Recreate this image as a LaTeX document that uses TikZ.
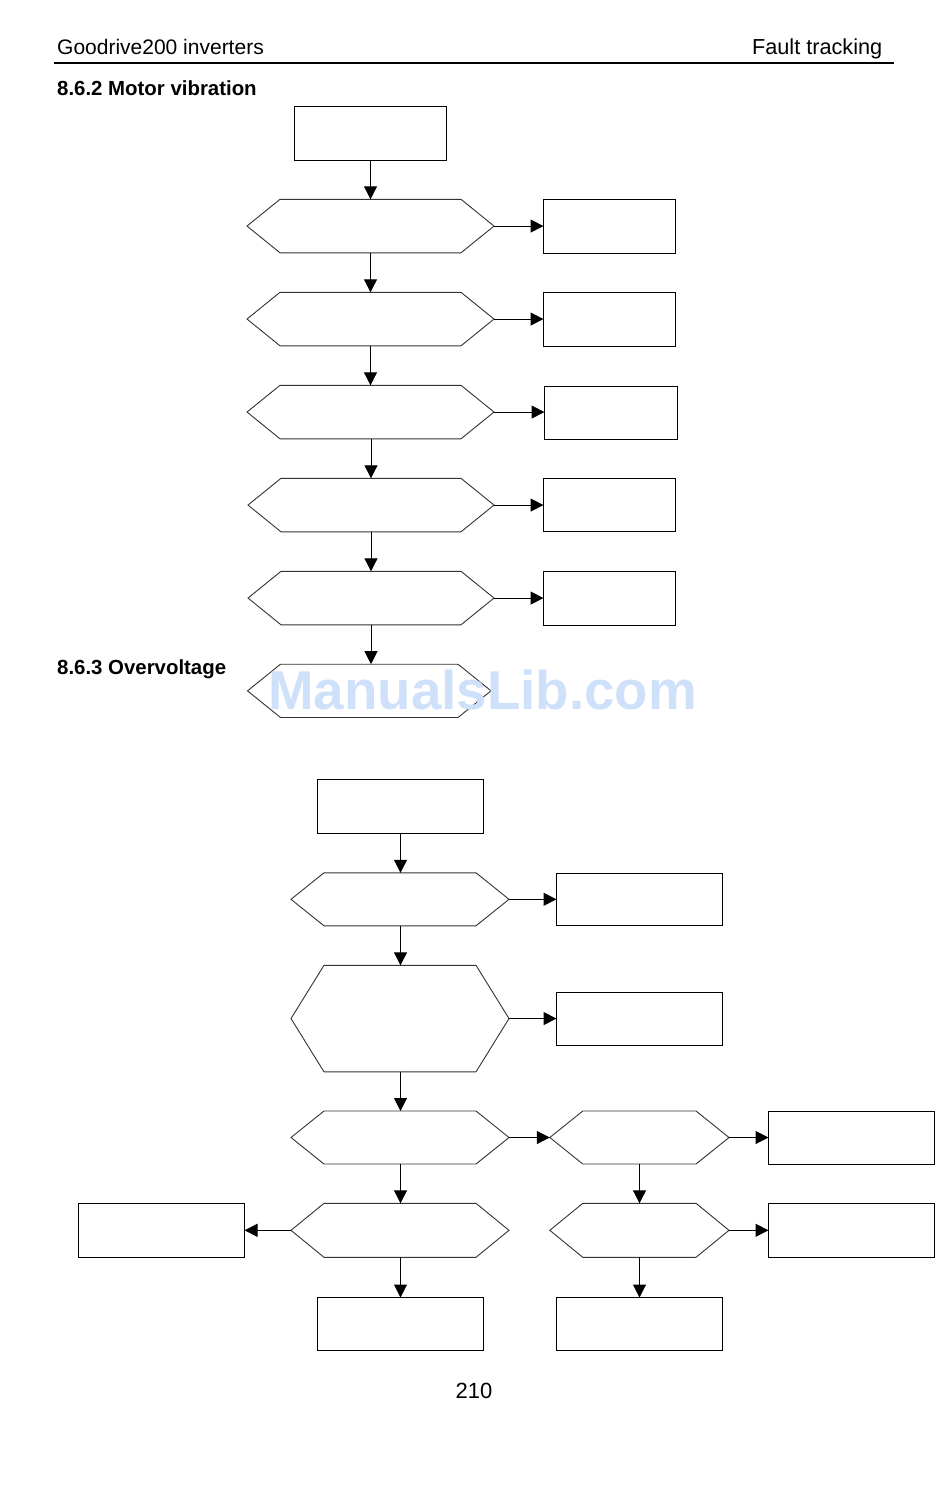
\documentclass[tikz,border=0pt]{standalone}
\usepackage{fontspec}
\setmainfont{Liberation Sans}
\usetikzlibrary{arrows.meta}
\definecolor{wm}{RGB}{207,225,250}
\tikzset{
  x=1pt,y=-1pt,
  box/.style={draw=black,line width=1pt,inner sep=0pt,outer sep=0pt},
  hexline/.style={draw=black!80,line width=0.9pt,line join=miter},
  conn/.style={draw=black,line width=1pt,-{Triangle[length=13pt,width=13pt]},shorten >=0pt},
  head/.style={anchor=base west,inner sep=0pt,font=\fontsize{21}{24}\selectfont},
  sect/.style={anchor=base west,inner sep=0pt,font=\bfseries\fontsize{20.4}{24}\selectfont},
}
% name, left, right, top, bottom
\newcommand{\rectnode}[5]{%
  \pgfmathsetmacro{\mycx}{(#2+#3)/2}\pgfmathsetmacro{\mycy}{(#4+#5)/2}%
  \pgfmathsetmacro{\mywd}{#3-#2}\pgfmathsetmacro{\myht}{#5-#4}%
  \node[box,minimum width=\mywd pt,minimum height=\myht pt] (#1) at (\mycx,\mycy) {};}
% name, left, right, top, bottom, inset
\newcommand{\hexnode}[6]{%
  \pgfmathsetmacro{\mycx}{(#2+#3)/2}\pgfmathsetmacro{\mycy}{(#4+#5)/2}%
  \pgfmathsetmacro{\mywd}{#3-#2}\pgfmathsetmacro{\myht}{#5-#4}%
  \node[inner sep=0pt,outer sep=0pt,minimum width=\mywd pt,minimum height=\myht pt] (#1) at (\mycx,\mycy) {};
  \draw[hexline] (#2,\mycy) -- (#2+#6,#4) -- (#3-#6,#4) -- (#3,\mycy) -- (#3-#6,#5) -- (#2+#6,#5) -- cycle;}
\newcommand{\down}[2]{\draw[conn] (#2.north |- #1.south) -- (#2.north);}
\newcommand{\rgt}[2]{\draw[conn] (#1.east) -- (#2.west |- #1.east);}
\begin{document}
\begin{tikzpicture}
\useasboundingbox (0,0) rectangle (950,1488);
\fill[white] (0,0) rectangle (950,1488);
% page furniture
\node[head] (hl) at (57,55) {Goodrive200 inverters};
\node[head,anchor=base east,font=\fontsize{21.7}{24}\selectfont] (hr) at (882.5,55) {Fault tracking};
\coordinate (ruleL) at (54,63.3);
\coordinate (ruleR) at (894,63.3);
\draw[line width=2pt] (ruleL) -- (ruleR);
\node[sect] (s1) at (57,95.5) {8.6.2 Motor vibration};
\node[sect] (s2) at (57,674.5) {8.6.3 Overvoltage};
\node[head,anchor=base,font=\fontsize{22}{24}\selectfont] (pg) at (474,1398) {210};
% upper flow
\rectnode{a0}{294.5}{446.5}{106.5}{160.5}
\hexnode{a1}{247}{494}{199.3}{252.8}{33}
\hexnode{a2}{247}{494}{292.3}{345.8}{33}
\hexnode{a3}{247}{494}{385.3}{438.8}{33}
\hexnode{a4}{248}{494}{478.3}{531.8}{33}
\hexnode{a5}{248}{494}{571.3}{624.8}{33}
\hexnode{a6}{247.5}{491}{664.2}{717.5}{33}
\rectnode{r1}{543.5}{675.5}{199.5}{253.5}
\rectnode{r2}{543.5}{675.5}{292.5}{346}
\rectnode{r3}{544.5}{677.5}{386.5}{439.5}
\rectnode{r4}{543.5}{675.5}{478.5}{531.5}
\rectnode{r5}{543.5}{675.5}{571.5}{625}
\draw[conn] (a0.south) -- (a0.south |- a1.north);
\draw[conn] (a0.south |- a1.south) -- (a0.south |- a2.north);
\draw[conn] (a0.south |- a2.south) -- (a0.south |- a3.north);
\down{a3}{a4}
\draw[conn] (a4.north |- a4.south) -- (a4.north |- a5.north);
\draw[conn] (a4.north |- a5.south) -- (a4.north |- a6.north);
\rgt{a1}{r1}\rgt{a2}{r2}\rgt{a3}{r3}\rgt{a4}{r4}\rgt{a5}{r5}
% lower flow
\rectnode{b0}{317.5}{483.5}{779.5}{833.5}
\hexnode{b1}{291}{509}{872.8}{925.8}{33}
\hexnode{b2}{291}{509}{965.3}{1071.8}{33}
\hexnode{b3}{291}{509}{1111}{1164}{33}
\hexnode{b4}{291}{509}{1203.3}{1257.3}{33}
\hexnode{c3}{549.8}{729}{1111}{1164}{33}
\hexnode{c4}{549.8}{729}{1203.3}{1257.3}{33}
\rectnode{q1}{556.5}{722.5}{873.5}{925.5}
\rectnode{q2}{556.5}{722.5}{992.5}{1045.5}
\rectnode{q3}{768.5}{934.5}{1111.5}{1164.5}
\rectnode{q4}{768.5}{934.5}{1203.5}{1257.5}
\rectnode{q5}{78.5}{244.5}{1203.5}{1257.5}
\rectnode{e1}{317.5}{483.5}{1297.5}{1350.5}
\rectnode{e2}{556.5}{722.5}{1297.5}{1350.5}
\draw[conn] (b0.south) -- (b1.north -| b0.south);
\draw[conn] (b1.south -| b0.south) -- (b2.north -| b0.south);
\draw[conn] (b2.south -| b0.south) -- (b3.north -| b0.south);
\draw[conn] (b3.south -| b0.south) -- (b4.north -| b0.south);
\draw[conn] (b4.south -| b0.south) -- (e1.north);
\draw[conn] (c3.south -| e2.north) -- (c4.north -| e2.north);
\draw[conn] (c4.south -| e2.north) -- (e2.north);
\rgt{b1}{q1}\rgt{b2}{q2}\rgt{b3}{c3}\rgt{c3}{q3}\rgt{c4}{q4}
\draw[conn] (b4.west) -- (q5.east |- b4.west);
% watermark
\node[anchor=base west,inner sep=0pt,text=wm,font=\bfseries\fontsize{54.7}{60}\selectfont] (wm) at (268,709.5) {ManualsLib.com};
\end{tikzpicture}
\end{document}
